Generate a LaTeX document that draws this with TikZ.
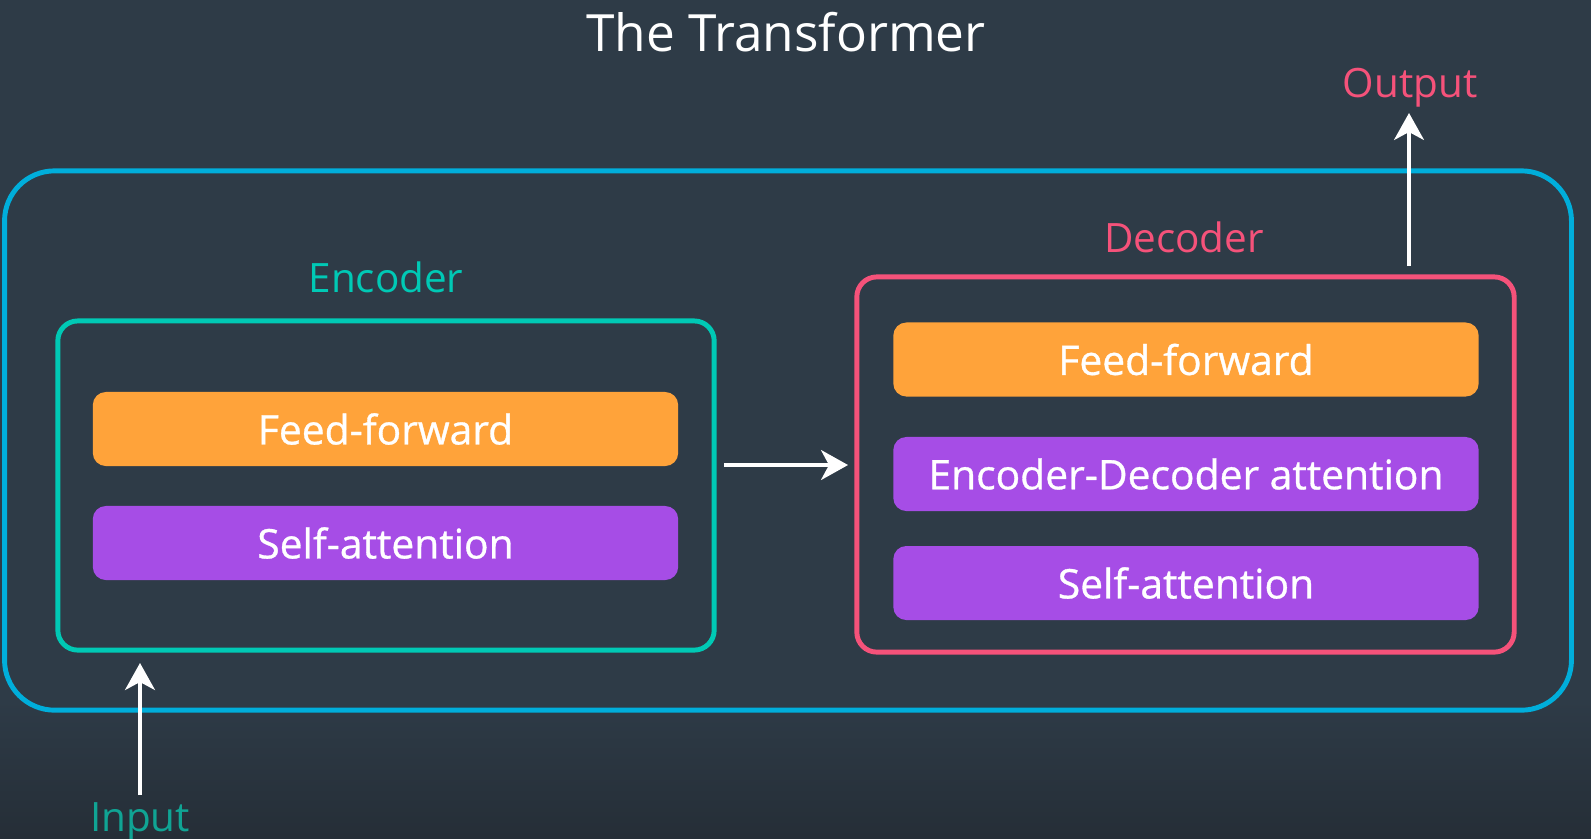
\documentclass[tikz,border=0pt]{standalone}
\usepackage{fontspec}
\setmainfont{Open Sans}
\newfontfamily\semifont{Open Sans}[FakeBold=0.8]
\usepackage{tikz}
\usetikzlibrary{positioning,arrows.meta}
\definecolor{bg}{HTML}{2E3B47}
\definecolor{bgdark}{HTML}{252E37}
\definecolor{outer}{HTML}{00AEDB}
\definecolor{enccol}{HTML}{00C9B5}
\definecolor{incol}{HTML}{10A494}
\definecolor{deccol}{HTML}{F5527A}
\definecolor{ffcol}{HTML}{FFA33A}
\definecolor{attcol}{HTML}{A64DE6}
\tikzset{
  frame/.style={draw, line width=1.4pt, rounded corners=0.2cm, inner sep=0pt},
  layer/.style={rounded corners=0.13cm, minimum width=5.85cm, minimum height=0.74cm,
    inner sep=0pt, text=white, font=\semifont\fontsize{11.6}{13}\selectfont},
  ffbox/.style={layer, fill=ffcol},
  attbox/.style={layer, fill=attcol},
  lab/.style={font=\fontsize{11.5}{14}\selectfont},
  arr/.style={draw=white, line width=0.9pt,
    -{Stealth[length=0.27cm, width=0.3cm, inset=0.08cm]}},
}
\begin{document}
\begin{tikzpicture}[x=0.01cm, y=-0.01cm]
  % background
  \clip (0,0) rectangle (1591,838);
  \fill[bg] (0,0) rectangle (1591,838);
  \shade[top color=bg, bottom color=bgdark] (0,700) rectangle (1591,838);

  \node[text=white, font=\fontsize{14.6}{18}\selectfont] (title) at (786,32) {The Transformer};

  % outer frame
  \node[frame, draw=outer, rounded corners=0.5cm, minimum width=15.66cm, minimum height=5.39cm]
    (model) at (788,440.5) {};

  % encoder
  \node[frame, draw=enccol, minimum width=6.56cm, minimum height=3.29cm] (enc) at (386,485.5) {};
  \node[lab, text=enccol] (enclab) at (386,277) {Encoder};
  \node[ffbox] (encff) at (385.5,429) {Feed-forward};
  \node[attbox] (encsa) at (385.5,543) {Self-attention};

  % decoder
  \node[frame, draw=deccol, minimum width=6.57cm, minimum height=3.75cm] (dec) at (1185.5,464.5) {};
  \node[lab, text=deccol] (declab) at (1184,237) {Decoder};
  \node[ffbox] (decff) at (1186,359.5) {Feed-forward};
  \node[attbox] (decea) at (1186,474) {Encoder-Decoder attention};
  \node[attbox] (decsa) at (1186,583) {Self-attention};

  % input / output
  \node[lab, text=incol] (inlab) at (140,822) {Input};
  \node[lab, text=deccol] (outlab) at (1410,88) {Output};

  \coordinate (inbot) at (140,795);
  \coordinate (intop) at (140,663);
  \coordinate (encout) at (724,465);
  \coordinate (decin) at (848,465);
  \coordinate (outbot) at (1409,266);
  \coordinate (outtop) at (1409,113);

  \draw[arr] (inbot) -- (intop);
  \draw[arr] (encout) -- (decin);
  \draw[arr] (outbot) -- (outtop);
\end{tikzpicture}
\end{document}
